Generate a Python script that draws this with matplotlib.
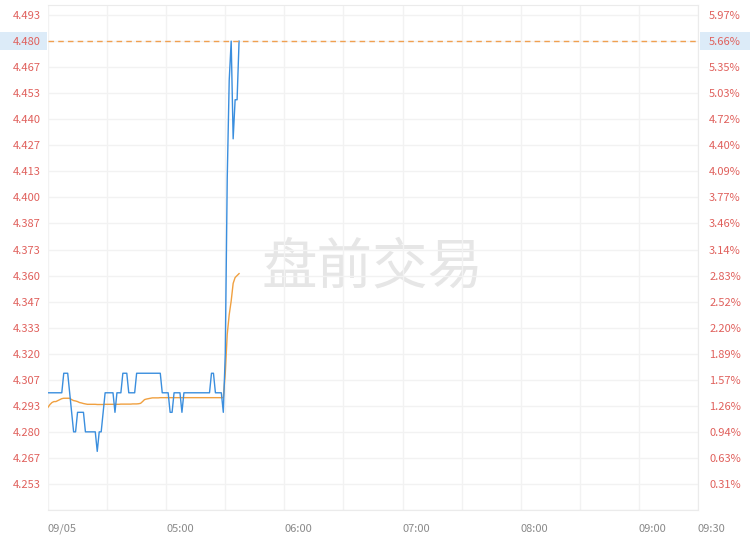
import numpy as np
import pandas as pd
import matplotlib
matplotlib.use("Agg")
import matplotlib.pyplot as plt
import matplotlib.dates as mdates
from matplotlib.patches import Rectangle

plt.rcParams['font.family'] = ['Noto Sans CJK SC', 'DejaVu Sans']

# pre-market minute data, 09/05 from 04:00
price = [4.30, 4.30, 4.30, 4.30, 4.30, 4.30, 4.30, 4.30, 4.31, 4.31,
         4.31, 4.30, 4.29, 4.28, 4.28, 4.29, 4.29, 4.29, 4.29, 4.28,
         4.28, 4.28, 4.28, 4.28, 4.28, 4.27, 4.28, 4.28, 4.29, 4.30,
         4.30, 4.30, 4.30, 4.30, 4.29, 4.30, 4.30, 4.30, 4.31, 4.31,
         4.31, 4.30, 4.30, 4.30, 4.30, 4.31, 4.31, 4.31, 4.31, 4.31,
         4.31, 4.31, 4.31, 4.31, 4.31, 4.31, 4.31, 4.31, 4.30, 4.30,
         4.30, 4.30, 4.29, 4.29, 4.30, 4.30, 4.30, 4.30, 4.29, 4.30,
         4.30, 4.30, 4.30, 4.30, 4.30, 4.30, 4.30, 4.30, 4.30, 4.30,
         4.30, 4.30, 4.30, 4.31, 4.31, 4.30, 4.30, 4.30, 4.30, 4.29,
         4.32, 4.41, 4.46, 4.48, 4.43, 4.45, 4.45, 4.48]
avg_price = [4.2926, 4.2940, 4.2950, 4.2955, 4.2955, 4.2960, 4.2965, 4.2970, 4.2972, 4.2972,
             4.2972, 4.2972, 4.2965, 4.2960, 4.2958, 4.2955, 4.2950, 4.2948, 4.2945, 4.2943,
             4.2941, 4.2941, 4.2941, 4.2941, 4.2941, 4.2940, 4.2940, 4.2940, 4.2940, 4.2941,
             4.2941, 4.2941, 4.2941, 4.2941, 4.2941, 4.2941, 4.2941, 4.2942, 4.2942, 4.2942,
             4.2942, 4.2942, 4.2942, 4.2943, 4.2943, 4.2943, 4.2944, 4.2946, 4.2955, 4.2965,
             4.2968, 4.2970, 4.2972, 4.2974, 4.2974, 4.2974, 4.2974, 4.2975, 4.2975, 4.2975,
             4.2975, 4.2975, 4.2975, 4.2975, 4.2975, 4.2975, 4.2975, 4.2975, 4.2975, 4.2975,
             4.2975, 4.2975, 4.2975, 4.2975, 4.2975, 4.2975, 4.2975, 4.2975, 4.2975, 4.2975,
             4.2975, 4.2975, 4.2975, 4.2975, 4.2975, 4.2975, 4.2975, 4.2975, 4.2975, 4.2975,
             4.3100, 4.3300, 4.3400, 4.3470, 4.3560, 4.3590, 4.3600, 4.3610]
prev_close = 4.240
last_price = 4.480

y_ticks = [4.2533, 4.2667, 4.2800, 4.2933, 4.3067, 4.3200, 4.3333, 4.3467, 4.3600, 4.3733,
           4.3867, 4.4000, 4.4133, 4.4267, 4.4400, 4.4533, 4.4667, 4.4800, 4.4933]
y_labels = ['4.253', '4.267', '4.280', '4.293', '4.307', '4.320', '4.333', '4.347', '4.360', '4.373',
            '4.387', '4.400', '4.413', '4.427', '4.440', '4.453', '4.467', '4.480', '4.493']
pct_labels = ['0.31%', '0.63%', '0.94%', '1.26%', '1.57%', '1.89%', '2.20%', '2.52%', '2.83%', '3.14%',
              '3.46%', '3.77%', '4.09%', '4.40%', '4.72%', '5.03%', '5.35%', '5.66%', '5.97%']
x_ticks = ['2023-09-05 04:00', '2023-09-05 05:00', '2023-09-05 06:00', '2023-09-05 07:00',
           '2023-09-05 08:00', '2023-09-05 09:00', '2023-09-05 09:30']
x_labels = ['09/05', '05:00', '06:00', '07:00', '08:00', '09:00', '09:30']

times = pd.date_range('2023-09-05 04:00', periods=len(price), freq='min')
t_start = pd.Timestamp('2023-09-05 04:00')
t_end = pd.Timestamp('2023-09-05 09:30')

red = '#e0605c'
grid_c = '#f2f2f2'

fig = plt.figure(figsize=(7.52, 5.47), dpi=100)
ax = fig.add_axes([48/752, 37/547, 650/752, 505/547])

ax.set_xlim(t_start, t_end)
ax.set_ylim(prev_close, 4.4985)

# grid
ax.set_yticks(y_ticks)
ax.set_yticklabels(y_labels)
ax.set_xticks([mdates.date2num(pd.Timestamp(t)) for t in x_ticks])
ax.set_xticklabels(x_labels)
ax.xaxis.set_minor_locator(mdates.MinuteLocator(byminute=[30]))
ax.grid(True, which='both', color=grid_c, linewidth=1, zorder=0)
ax.spines['left'].set_visible(False)
for s in ['bottom', 'right', 'top']:
    ax.spines[s].set_color('#ebebeb')
ax.axhline(prev_close, color='#ebebeb', lw=1)

ax.tick_params(axis='y', length=0, pad=5.5, labelsize=8, labelcolor=red)
ax.tick_params(axis='x', which='both', length=0, pad=10, labelsize=8, labelcolor='#8a8a8a')
for lbl in ax.get_xticklabels():
    lbl.set_horizontalalignment('left')

ax2 = ax.twinx()
ax2.set_ylim(ax.get_ylim())
ax2.set_yticks(y_ticks)
ax2.set_yticklabels(pct_labels)
ax2.tick_params(axis='y', length=0, pad=8, labelsize=8, labelcolor=red)
for s in ax2.spines.values():
    s.set_visible(False)

# watermark
ax.text(0.5, 0.48, '盘前交易', transform=ax.transAxes, ha='center', va='center',
        fontsize=40, color='#e6e6e6', family=['Noto Sans CJK SC', 'DejaVu Sans'],
        fontweight='light', zorder=1)

# lines
ax.plot(times, avg_price, color='#f0a040', lw=1.0, zorder=3)
ax.plot(times, price, color='#3a8ede', lw=1.0, zorder=4)
ax.axhline(last_price, color='#f0a050', lw=1, ls=(0, (4, 3)), zorder=5)

# highlighted labels for the last price
h = 18 / 505 * (4.4985 - prev_close)
trans = ax.get_yaxis_transform()
ax.add_patch(Rectangle((-48/650, last_price - h/2), 47/650, h, transform=trans,
                       facecolor='#dcebf8', edgecolor='none', clip_on=False, zorder=0))
ax.add_patch(Rectangle((1 + 2/650, last_price - h/2), 50/650, h, transform=trans,
                       facecolor='#dcebf8', edgecolor='none', clip_on=False, zorder=0))

fig.savefig('out.png', dpi=100)
